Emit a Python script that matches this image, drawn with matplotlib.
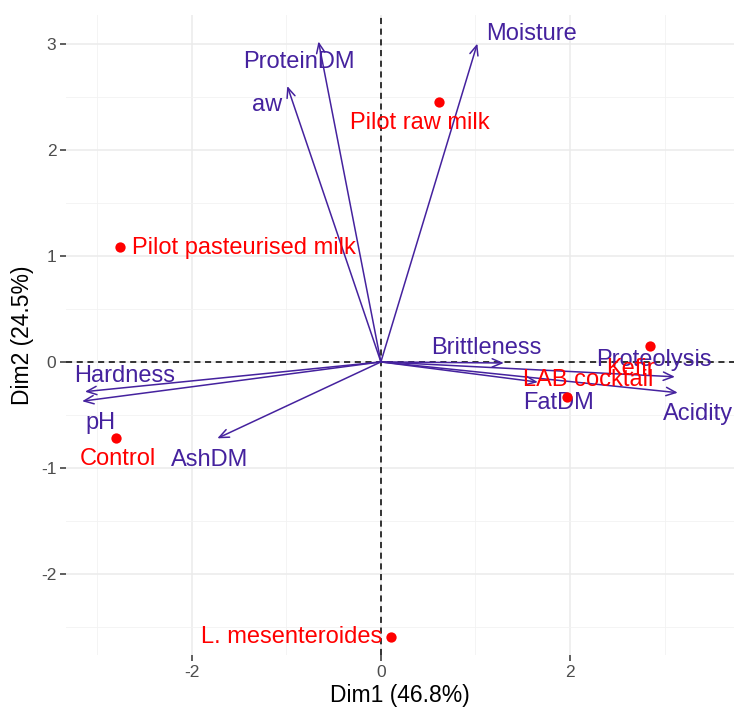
import matplotlib
matplotlib.use("Agg")
import matplotlib.pyplot as plt
from matplotlib.ticker import MultipleLocator

plt.rcParams['font.family'] = ['Liberation Sans', 'DejaVu Sans']
plt.rcParams['axes.unicode_minus'] = False

# individuals (PCA scores)
ind_names = ["Pilot raw milk", "Pilot pasteurised milk", "Control",
             "L. mesenteroides", "Kefir", "LAB cocktail"]
ind_x = [0.61, -2.76, -2.80, 0.105, 2.85, 1.97]
ind_y = [2.45, 1.08, -0.72, -2.59, 0.15, -0.33]
ind_lab_x = [0.41, -1.45, -2.78, -0.94, 2.64, 2.19]
ind_lab_y = [2.25, 1.07, -0.91, -2.59, -0.07, -0.17]

# variables (loadings)
var_names = ["Moisture", "ProteinDM", "aw", "Hardness", "pH", "AshDM",
             "Brittleness", "FatDM", "Proteolysis", "Acidity"]
var_x = [1.02, -0.66, -0.99, -3.13, -3.16, -1.73, 1.30, 1.66, 3.11, 3.14]
var_y = [3.00, 3.02, 2.60, -0.28, -0.37, -0.72, -0.01, -0.19, -0.14, -0.29]
var_lab_x = [1.59, -0.87, -1.20, -2.71, -2.97, -1.81, 1.11, 1.88, 2.89, 3.35]
var_lab_y = [3.09, 2.83, 2.42, -0.13, -0.58, -0.92, 0.13, -0.39, 0.02, -0.49]

var_col = "#45229E"
ind_col = "#FF0000"

fig = plt.figure(figsize=(7.37, 7.11), dpi=100)
ax = fig.add_axes([0.0896, 0.079, 0.907, 0.900])

ax.set_xlim(-3.33, 3.74)
ax.set_ylim(-2.76, 3.27)

ax.xaxis.set_major_locator(MultipleLocator(2))
ax.xaxis.set_minor_locator(MultipleLocator(1))
ax.yaxis.set_major_locator(MultipleLocator(1))
ax.yaxis.set_minor_locator(MultipleLocator(0.5))
ax.grid(which='major', color='#EBEBEB', linewidth=1.1)
ax.grid(which='minor', color='#F2F2F2', linewidth=0.6)
ax.set_axisbelow(True)
for s in ax.spines.values():
    s.set_visible(False)
ax.tick_params(which='major', length=4, width=1.1, color='#333333',
               labelsize=12.5, labelcolor='#4D4D4D', pad=3)
ax.tick_params(which='minor', length=0)

ax.axhline(0, color='black', linestyle=(0, (4, 3)), linewidth=1.1, zorder=1)
ax.axvline(0, color='black', linestyle=(0, (4, 3)), linewidth=1.1, zorder=1)

# variable arrows
for name, x, y, lx, ly in zip(var_names, var_x, var_y, var_lab_x, var_lab_y):
    ax.annotate("", xy=(x, y), xytext=(0, 0),
                arrowprops=dict(arrowstyle='->,head_length=0.7,head_width=0.3',
                                color=var_col, lw=1.1, shrinkA=0, shrinkB=0),
                zorder=3)
    ax.text(lx, ly, name, color=var_col, fontsize=17, ha='center', va='center', zorder=4)

# individuals
ax.scatter(ind_x, ind_y, s=55, color=ind_col, zorder=5, linewidths=0)
for name, lx, ly in zip(ind_names, ind_lab_x, ind_lab_y):
    ax.text(lx, ly, name, color=ind_col, fontsize=17, ha='center', va='center', zorder=6)

ax.set_xlabel("Dim1 (46.8%)", fontsize=16.5, labelpad=3)
ax.set_ylabel("Dim2 (24.5%)", fontsize=16.5, labelpad=5)

fig.savefig("out.png", dpi=100)
